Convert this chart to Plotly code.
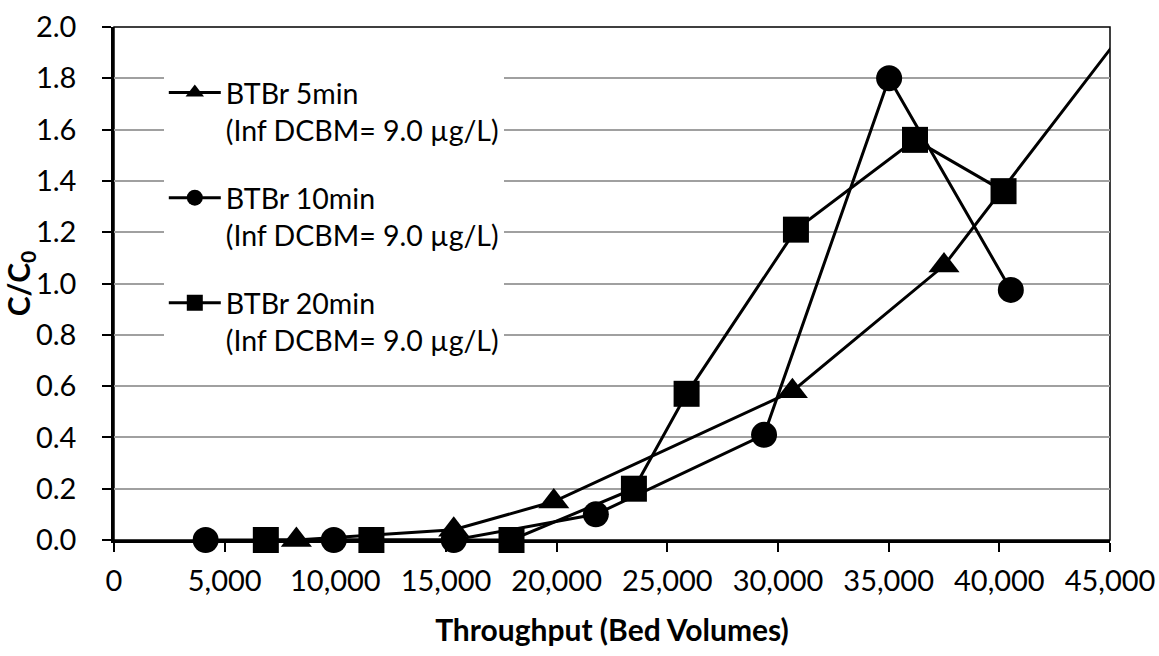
import plotly.graph_objects as go

# ---- data ----
x_5min = [8240, 15350, 19870, 30650, 37500, 48000]
y_5min = [0.0, 0.04, 0.15, 0.58, 1.07, 2.25]

x_10min = [4140, 9930, 15350, 21770, 29370, 35020, 40520]
y_10min = [0.0, 0.0, 0.0, 0.10, 0.41, 1.80, 0.975]

x_20min = [6860, 11630, 17960, 23490, 25870, 30810, 36190, 40190]
y_20min = [0.0, 0.0, 0.0, 0.20, 0.57, 1.21, 1.56, 1.36]

names = [
    "BTBr 5min<br>(Inf DCBM= 9.0 µg/L)",
    "BTBr 10min<br>(Inf DCBM= 9.0 µg/L)",
    "BTBr 20min<br>(Inf DCBM= 9.0 µg/L)",
]
x_ticks = [0, 5000, 10000, 15000, 20000, 25000, 30000, 35000, 40000, 45000]
x_ticklabels = ["0", "5,000", "10,000", "15,000", "20,000", "25,000",
                "30,000", "35,000", "40,000", "45,000"]
y_ticks = [0.0, 0.2, 0.4, 0.6, 0.8, 1.0, 1.2, 1.4, 1.6, 1.8, 2.0]
y_ticklabels = ["%.1f" % v for v in y_ticks]

FONT = "Lato"
FS_TICK = 29
FS_LEG = 28.5
FS_TITLE = 30

fig = go.Figure()
series = [
    (x_5min, y_5min, "triangle-up", 27),
    (x_10min, y_10min, "circle", 26),
    (x_20min, y_20min, "square", 26),
]
for i, (xs, ys, sym, sz) in enumerate(series):
    fig.add_trace(go.Scatter(
        x=xs, y=ys, mode="lines+markers", name=names[i],
        legendgroup="g%d" % i, cliponaxis=False,
        line=dict(color="black", width=3),
        marker=dict(symbol=sym, size=sz, color="black", line=dict(width=0)),
    ))

fig.update_layout(
    width=1159, height=656,
    margin=dict(l=114, r=49, t=27, b=116, autoexpand=False),
    paper_bgcolor="white", plot_bgcolor="white",
    font=dict(family=FONT, size=FS_TICK, color="black"),
    showlegend=True,
    legend=dict(
        x=0.05, y=0.921, xanchor="left", yanchor="top",
        bgcolor="white", borderwidth=0,
        font=dict(family=FONT, size=FS_LEG, color="black"),
        tracegroupgap=28, itemwidth=52, valign="top",
    ),
    xaxis=dict(
        range=[0, 45000], tickvals=x_ticks, ticktext=x_ticklabels,
        ticks="outside", ticklen=9, tickwidth=2, tickcolor="black",
        showline=True, linecolor="black", linewidth=2.5,
        showgrid=False, zeroline=False, layer="below traces",
        tickfont=dict(family=FONT, size=FS_TICK),
        ticklabelstandoff=4,
        title=dict(text="<b>Throughput (Bed Volumes)</b>",
                   font=dict(family=FONT, size=FS_TITLE), standoff=25),
    ),
    yaxis=dict(
        range=[0, 2.0], tickvals=y_ticks, ticktext=y_ticklabels,
        ticks="outside", ticklen=9, tickwidth=2, tickcolor="black",
        showline=True, linecolor="black", linewidth=2.5,
        showgrid=True, gridcolor="#A0A0A0", gridwidth=1.8,
        zeroline=False, layer="below traces",
        tickfont=dict(family=FONT, size=FS_TICK),
        ticklabelstandoff=20,
        title=dict(text="<b>C/C<sub>0</sub></b>",
                   font=dict(family=FONT, size=FS_TITLE), standoff=4),
    ),
    xaxis2=dict(
        range=[0, 45000], overlaying="x", side="bottom", anchor="y",
        tickvals=x_ticks, showticklabels=False, layer="below traces",
        ticks="inside", ticklen=9, tickwidth=2, tickcolor="black",
        showline=False, showgrid=False, zeroline=False,
    ),
    yaxis2=dict(
        range=[0, 2.0], overlaying="y", side="left", anchor="x",
        dtick=0.1, tick0=0, showticklabels=False, layer="below traces",
        ticks="inside", ticklen=8, tickwidth=2, tickcolor="black",
        showline=False, showgrid=False, zeroline=False,
    ),
    shapes=[dict(type="rect", xref="paper", yref="paper", x0=0, y0=0, x1=1, y1=1,
                 line=dict(color="black", width=1.5), fillcolor="rgba(0,0,0,0)",
                 layer="below")],
)

fig.write_html("out.html",
               config={"displayModeBar": False},
               post_script="document.body.style.margin='0';document.body.style.overflow='hidden';")
